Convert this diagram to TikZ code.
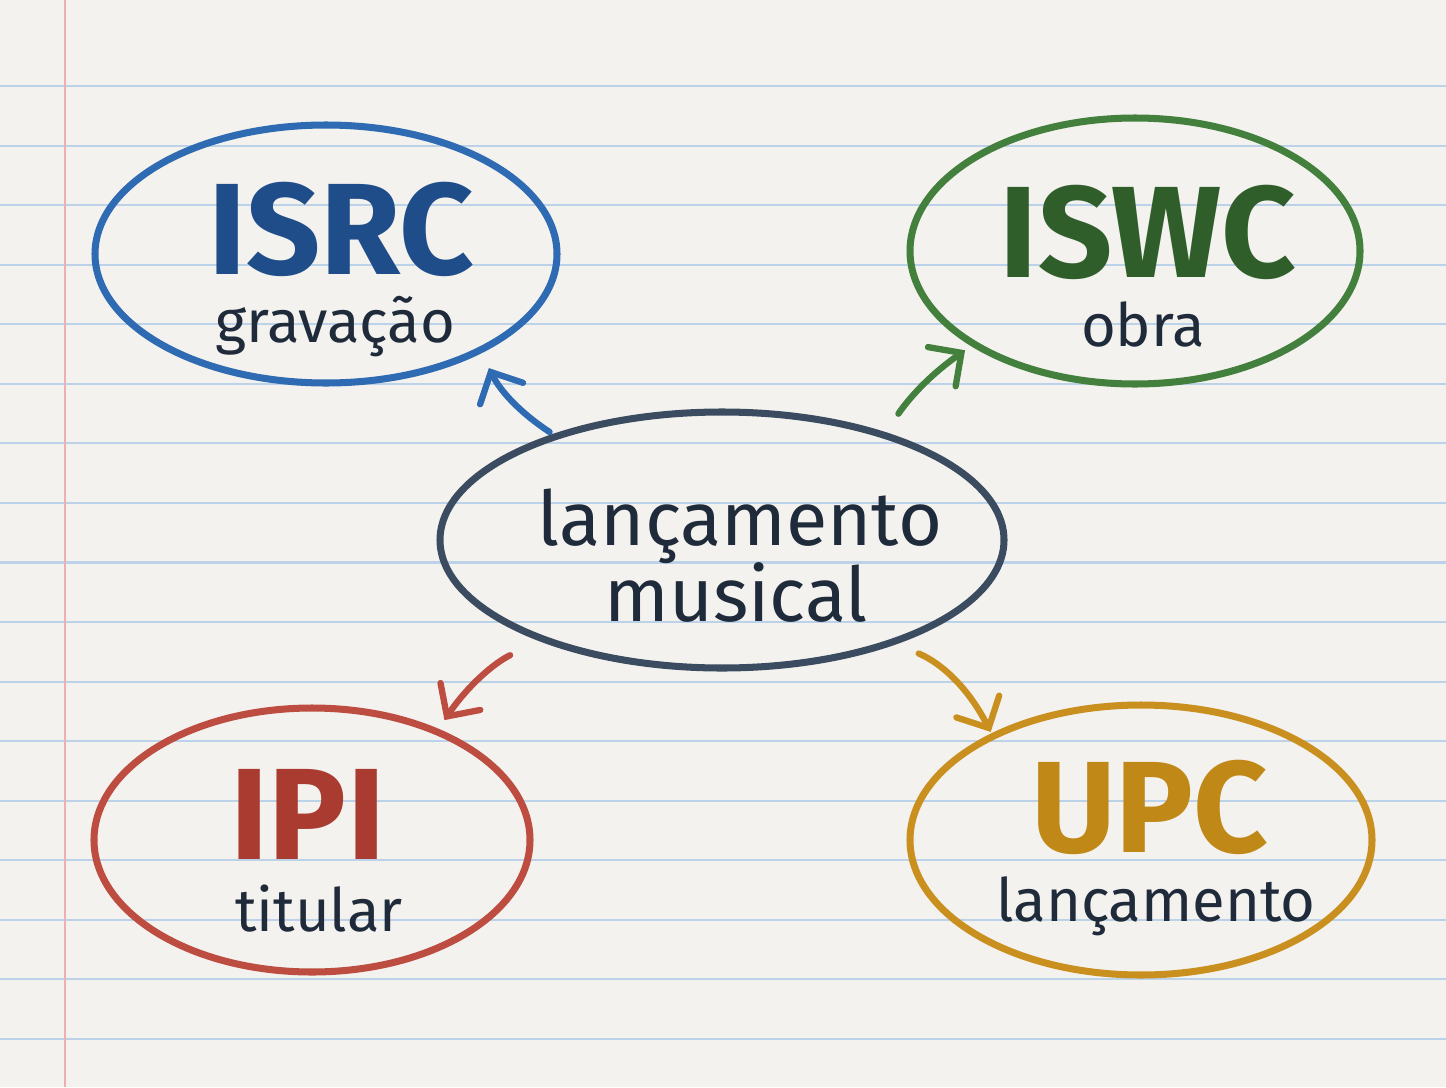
\documentclass[tikz,border=0pt]{standalone}
\usepackage{fontspec}
\setmainfont{Fira Sans}
\usepackage{tikz}
\usetikzlibrary{calc,shapes.geometric,arrows.meta}
\definecolor{paper}{HTML}{F4F2EE}
\definecolor{rule_blue}{HTML}{BCD2E8}
\definecolor{margin_red}{HTML}{EDB0B2}
\definecolor{ink}{HTML}{1F2B3A}
\definecolor{slate}{HTML}{3B4C61}
\definecolor{isrc_blue}{HTML}{2E6BB3}
\definecolor{isrc_ink}{HTML}{1F4D8A}
\definecolor{iswc_green}{HTML}{437F3D}
\definecolor{iswc_ink}{HTML}{2F5E2B}
\definecolor{ipi_red}{HTML}{BC4D40}
\definecolor{ipi_ink}{HTML}{AA3B31}
\definecolor{upc_gold}{HTML}{C99020}
\definecolor{upc_ink}{HTML}{C08817}

\begin{document}
\begin{tikzpicture}[scale=1,>={Straight Barb[length=2.4mm,width=4.8mm,line cap=round]},
    bubble/.style={draw=#1, ellipse, line width=2pt, inner sep=0pt, outer sep=0pt},
    arrow/.style={->, draw=#1, line width=1.8pt, line cap=round},
    code/.style={anchor=base, inner sep=0pt, font=\bfseries\fontsize{37}{37}\selectfont},
    sub/.style={anchor=base, inner sep=0pt, text=ink, font=\fontsize{17}{17}\selectfont},
    title/.style={anchor=base, inner sep=0pt, text=ink, font=\fontsize{21.5}{21.5}\selectfont}]

        % Fond de la feuille
        \useasboundingbox (0,0) rectangle (14.46,10.87);
        \fill[paper] (0,0) rectangle (14.46,10.87);

        % Lignes de la feuille et marge
        \foreach \k in {0,...,16}
            \draw[rule_blue, line width=0.6pt] (0,{10.01-0.5956*\k}) -- (14.46,{10.01-0.5956*\k});
        \draw[margin_red, line width=0.7pt] (0.65,0) -- (0.65,10.87);

        % Ellipses
        \node[bubble=slate, minimum width=5.64cm, minimum height=2.56cm] (launch) at (7.22,5.47) {};
        \node[bubble=isrc_blue, minimum width=4.62cm, minimum height=2.58cm] (isrc) at (3.26,8.33) {};
        \node[bubble=iswc_green, minimum width=4.50cm, minimum height=2.66cm] (iswc) at (11.35,8.36) {};
        \node[bubble=ipi_red, minimum width=4.36cm, minimum height=2.64cm] (ipi) at (3.12,2.47) {};
        \node[bubble=upc_gold, minimum width=4.62cm, minimum height=2.70cm] (upc) at (11.41,2.47) {};

        % Textes
        \node[title] (launch top) at (7.40,5.42) {lançamento};
        \node[title] (launch bottom) at (7.36,4.66) {musical};
        \node[code, text=isrc_ink] (isrc code) at (3.41,8.13) {ISRC};
        \node[sub] (isrc sub) at (3.35,7.45) {gravação};
        \node[code, text=iswc_ink] (iswc code) at (11.48,8.10) {ISWC};
        \node[sub] (iswc sub) at (11.43,7.41) {obra};
        \node[code, text=ipi_ink] (ipi code) at (3.08,2.28) {IPI};
        \node[sub] (ipi sub) at (3.19,1.56) {titular};
        \node[code, text=upc_ink] (upc code) at (11.50,2.35) {UPC};
        \node[sub] (upc sub) at (11.56,1.66) {lançamento};

        % Flèches
        \draw[arrow=isrc_blue, shorten <=0.08cm, shorten >=0.2cm] (launch.148) to[bend left=15] (isrc.-32);
        \draw[arrow=iswc_green, shorten <=0.26cm, shorten >=0.11cm] (launch.33.5) to[bend left=10] (iswc.210);
        \draw[arrow=ipi_red, shorten <=0.37cm, shorten >=0.14cm] (launch.209) to[bend right=15] (ipi.41);
        \draw[arrow=upc_gold, shorten <=0.29cm, shorten >=0.05cm] (launch.-31) to[bend left=20] (upc.145);
    \end{tikzpicture}
\end{document}
